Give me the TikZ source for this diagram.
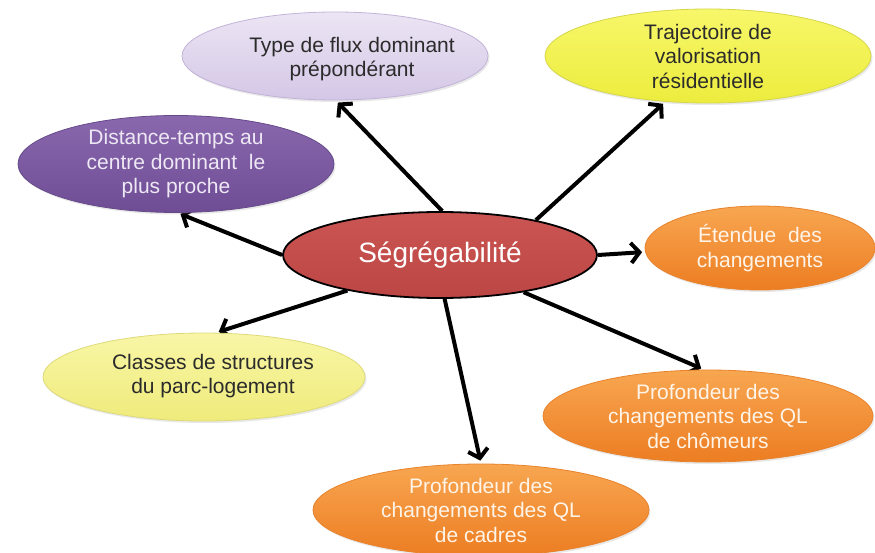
\documentclass[tikz,border=0pt]{standalone}
\usepackage{fontspec}
\setmainfont{Liberation Sans}
\usetikzlibrary{shapes.geometric,arrows.meta,backgrounds,shadows}
\definecolor{redtop}{HTML}{CA5552}
\definecolor{redbot}{HTML}{BC4643}
\definecolor{lavtop}{HTML}{ECE5F4}
\definecolor{lavbot}{HTML}{D4C7E6}
\definecolor{lavline}{HTML}{C2B3D8}
\definecolor{yeltop}{HTML}{F7F76A}
\definecolor{yelbot}{HTML}{ECEC3E}
\definecolor{yelline}{HTML}{D6D64A}
\definecolor{purtop}{HTML}{8A68AE}
\definecolor{purbot}{HTML}{6E4D95}
\definecolor{purline}{HTML}{664A8A}
\definecolor{ortop}{HTML}{F8A651}
\definecolor{orbot}{HTML}{EC7D22}
\definecolor{orline}{HTML}{E8832C}
\definecolor{pyltop}{HTML}{F8F6A6}
\definecolor{pylbot}{HTML}{EFEB7C}
\definecolor{pylline}{HTML}{DEDA7A}
\definecolor{darktxt}{HTML}{2B2B2B}
\definecolor{purtxt}{HTML}{EEE8F4}
\definecolor{ortxt}{HTML}{FFF4E8}
\begin{document}
\begin{tikzpicture}[x=1pt,y=-1pt,
  txt/.style={align=center, inner sep=0pt, font=\fontsize{21}{24.5}\selectfont},
  bub/.style={ellipse, inner sep=0pt, txt,
    drop shadow={opacity=0.18, shadow xshift=1.5pt, shadow yshift=-2pt}},
  lav/.style={bub, top color=lavtop, bottom color=lavbot, draw=lavline, line width=0.8pt, text=darktxt},
  yel/.style={bub, top color=yeltop, bottom color=yelbot, draw=yelline, line width=0.8pt, text=darktxt},
  pur/.style={bub, top color=purtop, bottom color=purbot, draw=purline, line width=0.8pt, text=purtxt},
  ora/.style={bub, top color=ortop, bottom color=orbot, draw=orline, line width=0.8pt, text=ortxt},
  pyl/.style={bub, top color=pyltop, bottom color=pylbot, draw=pylline, line width=0.8pt, text=darktxt},
  hub/.style={ellipse, inner sep=0pt, top color=redtop, bottom color=redbot,
    draw=black, line width=1.8pt, text=white, font=\fontsize{28}{32}\selectfont},
  arr/.style={line width=4pt, -{Straight Barb[length=8.5pt,width=20pt]}, shorten >=3pt}]
\useasboundingbox (0,0) rectangle (875,553);

\node[hub, minimum width=314pt, minimum height=86pt] (c) at (440,255) {Ségrégabilité};
\node[lav, minimum width=306pt, minimum height=88pt] (typ) at (335,56) {};
\node[txt, text=darktxt] (typt) at (352,59) {Type de flux dominant\\prépondérant};
\node[yel, minimum width=326pt, minimum height=94pt] (traj) at (708,56) {Trajectoire de\\valorisation\\résidentielle};
\node[pur, minimum width=316pt, minimum height=96pt] (dist) at (176,164) {Distance-temps au\\centre dominant \ le\\plus proche};
\node[ora, minimum width=230pt, minimum height=84pt] (et) at (760,248) {Étendue \ des\\changements};
\node[pyl, minimum width=322pt, minimum height=88pt] (cl) at (204,377) {};
\node[txt, text=darktxt] (clt) at (213,376) {Classes de structures\\du parc-logement};
\node[ora, minimum width=330pt, minimum height=92pt] (ch) at (708,416) {Profondeur des\\changements des QL\\de chômeurs};
\node[ora, minimum width=336pt, minimum height=92pt] (cad) at (481,510) {Profondeur des\\changements des QL\\de cadres};

\begin{scope}[on background layer]
  \fill[white] (0,0) rectangle (875,553);
  \draw[arr] (c.87) -- (typ.-89);
  \draw[arr] (c.20) -- (traj.-133);
  \draw[arr] (c.180) -- (dist.-88);
  \draw[arr] (c.east) -- (et.182);
  \draw[arr] (c.-159) -- (cl.75);
  \draw[arr] (c.-24) -- (ch.95);
  \draw[arr] (c.-84) -- (cad.90);
\end{scope}
\end{tikzpicture}
\end{document}
